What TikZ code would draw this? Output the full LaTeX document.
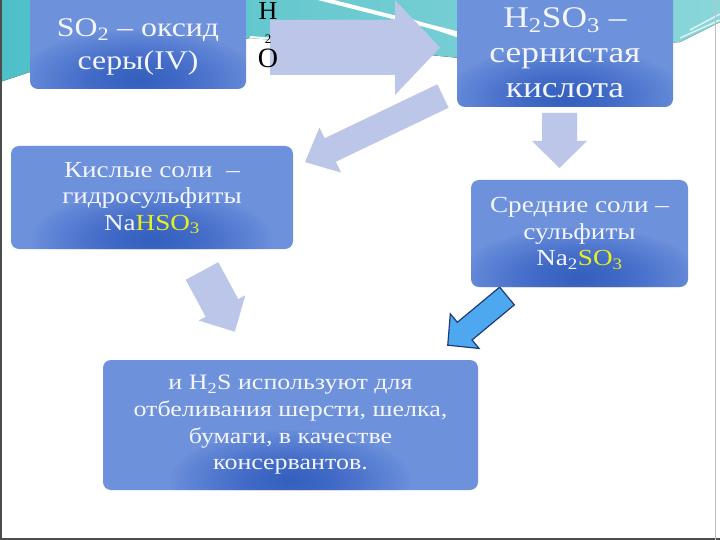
\documentclass[tikz,border=0pt]{standalone}
\usepackage{fontspec}
\setmainfont{Liberation Serif}[FakeStretch=1.18]
\newfontfamily\plainserif{Liberation Serif}
\definecolor{boxblue}{HTML}{6D91DA}
\definecolor{boxdark}{HTML}{1F4DBE}
\definecolor{arrowc}{HTML}{BCC6E8}
\definecolor{tealA}{HTML}{4FC0C8}
\definecolor{tealB}{HTML}{8AD6DA}
\definecolor{yel}{HTML}{E6F01E}
\definecolor{brightblue}{HTML}{4DA8F0}
\definecolor{navy}{HTML}{1E3C78}
\definecolor{boxtext}{HTML}{F4F6FF}
\newcommand\blockarr[8]{%
  \begin{scope}[shift={(#2,#3)},rotate=#4]
    \path[#1] (0,-#6/2) -- (#5-#8,-#6/2) -- (#5-#8,-#7/2) -- (#5,0)
      -- (#5-#8,#7/2) -- (#5-#8,#6/2) -- (0,#6/2) -- cycle;
  \end{scope}}
\begin{document}
\begin{tikzpicture}[x=1pt,y=-1pt,
  box/.style={rounded corners=8pt, fill=boxblue, inner sep=0pt,
    path picture={\foreach \k in {1,...,30}
      \fill[boxdark, opacity=0.032]
        ([yshift=9pt]path picture bounding box.south) ellipse [x radius={\k*4pt}, y radius={\k*1.7pt}];}},
  boxlabel/.style={text=boxtext, align=center, inner sep=0pt},
  arrowfill/.style={fill=arrowc},
  bluearrow/.style={fill=brightblue, draw=navy, line width=1.2pt, line join=miter}]
\useasboundingbox[fill=white] (0,0) rectangle (720,540);
% teal background band
\fill[left color=tealA, right color=tealB] (0,0) -- (720,0) -- (720,22) -- (680,42) -- (460,58)
  -- (300,42) -- (250,38) -- (30,72) -- (0,82) -- cycle;
\draw[white, line width=4pt] (318,-2) -- (460,34);
\draw[white, line width=3pt] (410,20) -- (470,40);
\draw[white, line width=2pt] (250,37) -- (300,41);
\draw[white!70!tealB, line width=1.5pt] (690,30) -- (720,14);
\draw[white!70!tealB, line width=1.5pt] (680,38) -- (720,20);
% frame
\draw[gray!60!black, line width=2pt] (1,0) -- (1,540);
\draw[gray!60!black, line width=2.5pt] (0,539) -- (720,539);
\draw[gray!50, line width=0.6pt] (715,0) -- (715,540);
% block arrows
\blockarr{arrowfill}{270}{47.5}{0}{170}{55}{95}{45}
\blockarr{arrowfill}{443}{96}{205.6}{153}{26}{50}{28}
\blockarr{arrowfill}{559.5}{113}{-90}{55}{35}{55}{27}
\blockarr{arrowfill}{202}{271}{-61.6}{69}{37}{53}{27}
\blockarr{bluearrow}{507}{296}{219.7}{77}{23}{45}{22}
% boxes
\node[box, minimum width=216, minimum height=97] (so2) at (138,40.5) {};
\node[boxlabel, font=\fontsize{27}{33}\selectfont] (so2t) at (138,46.5)
  {SO\textsubscript{2} – оксид\\серы(IV)};
\node[box, minimum width=216, minimum height=115] (h2so3) at (565,49.5) {};
\node[boxlabel, font=\fontsize{30}{35}\selectfont] (h2so3t) at (565,52.5)
  {H\textsubscript{2}SO\textsubscript{3} –\\сернистая\\кислота};
\node[box, minimum width=282, minimum height=103] (acid) at (152,197.5) {};
\node[boxlabel, font=\fontsize{23}{26.5}\selectfont] (acidt) at (152,198)
  {Кислые соли \ –\\гидросульфиты\\Na\textcolor{yel}{HSO\textsubscript{3}}};
\node[box, minimum width=217, minimum height=107] (mid) at (579.5,233.5) {};
\node[boxlabel, font=\fontsize{23}{26.5}\selectfont] (midt) at (579.5,233.5)
  {Средние соли –\\сульфиты\\Na\textsubscript{2}\textcolor{yel}{SO\textsubscript{3}}};
\node[box, minimum width=375, minimum height=130] (use) at (290.5,425) {};
\node[boxlabel, font=\fontsize{22}{26.7}\selectfont] (uset) at (290.5,425)
  {и H\textsubscript{2}S используют для\\отбеливания шерсти, шелка,\\бумаги, в качестве\\консервантов.};
% H2O label
\node[font=\plainserif\fontsize{26}{26}\selectfont, inner sep=0pt] (hh) at (268,10.5) {H};
\node[font=\plainserif\fontsize{13}{13}\selectfont, inner sep=0pt] (two) at (268,39) {2};
\node[font=\plainserif\fontsize{28}{28}\selectfont, inner sep=0pt] (oo) at (268,58) {O};
\end{tikzpicture}
\end{document}
